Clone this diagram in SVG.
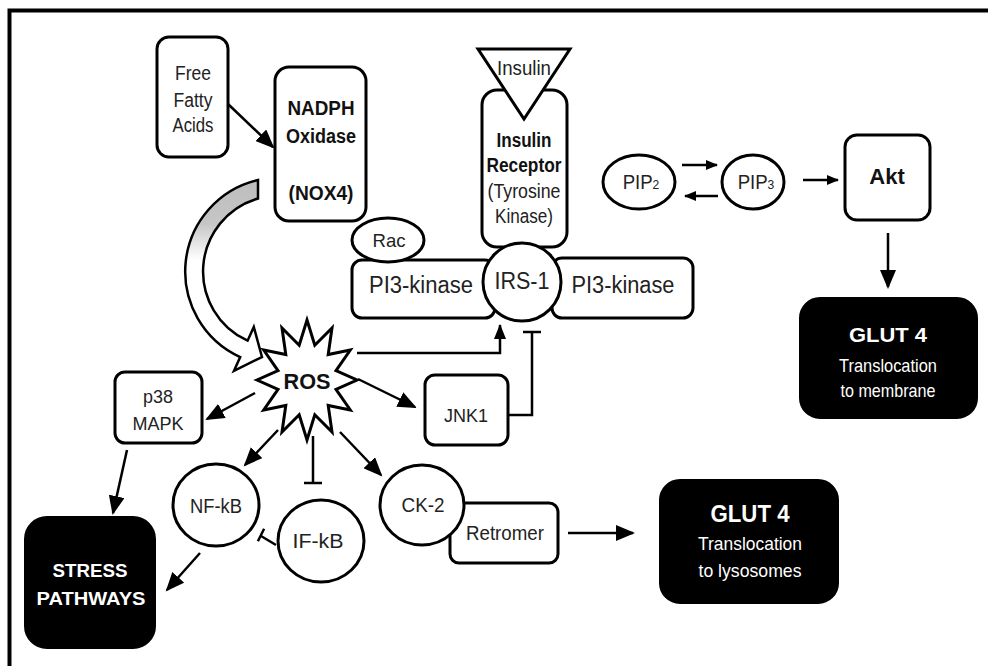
<svg xmlns="http://www.w3.org/2000/svg" width="988" height="666" viewBox="0 0 988 666">
<defs>
<style>
text{font-family:"Liberation Sans",Arial,sans-serif;text-anchor:middle;fill:#222}
.b{font-weight:bold;fill:#111}
.w{fill:#fff;font-weight:bold}
.box{fill:#fff;stroke:#000;stroke-width:3}
.blk{fill:#000;stroke:#000;stroke-width:2}
.ln{fill:none;stroke:#000;stroke-width:2.5}
.ah{marker-end:url(#ah)}
.am{marker-end:url(#am)}
.as{marker-end:url(#as)}
</style>
<marker id="ah" markerUnits="userSpaceOnUse" markerWidth="20" markerHeight="16" refX="17" refY="8" orient="auto"><path d="M0,0 L19,8 L0,16 z" fill="#000"/></marker>
<marker id="am" markerUnits="userSpaceOnUse" markerWidth="16" markerHeight="12" refX="14" refY="6" orient="auto"><path d="M0,0 L15,6 L0,12 z" fill="#000"/></marker>
<marker id="as" markerUnits="userSpaceOnUse" markerWidth="13" markerHeight="10" refX="11" refY="5" orient="auto"><path d="M0,0 L12,5 L0,10 z" fill="#000"/></marker>
<linearGradient id="gr" gradientUnits="userSpaceOnUse" x1="0" y1="180" x2="0" y2="260">
<stop offset="0" stop-color="#bdbdbd"/><stop offset="0.55" stop-color="#c6c6c6"/><stop offset="1" stop-color="#fff"/>
</linearGradient>
</defs>
<rect width="988" height="666" fill="#fff"/>
<path d="M9.5,666 V10.5 H988" fill="none" stroke="#000" stroke-width="4"/>

<g id="connectors">
<path d="M258,180 A94,94 0 0,0 240.2,357.1 L234,370.8 L262,357 L253.8,327 L247.6,340.7 A76,76 0 0,1 258,198.5 Z" fill="url(#gr)" stroke="#000" stroke-width="2.5" stroke-linejoin="miter"/>
<path class="ln ah" d="M228,104 L273,147"/>
<path class="ln as" d="M682,165 L717,165"/>
<path class="ln as" d="M718,196 L685,196"/>
<path class="ln as" d="M803,180 L838,180"/>
<path class="ln ah" d="M888,233 L888,287"/>
<path class="ln am" d="M357,353 H500 V325"/>
<path class="ln" d="M508,415 H532 V332 M523,332 H541"/>
<path class="ln ah" d="M358,379 L415,407"/>
<path class="ln ah" d="M255,393 L207,419"/>
<path class="ln ah" d="M127,450 L113,513"/>
<path class="ln ah" d="M278,430 L245,465"/>
<path class="ln ah" d="M200,553 L167,590"/>
<path class="ln" d="M313,436 V483 M304,483 H322"/>
<path class="ln" d="M276,545 L261,536 M264.1,528.7 L257.9,541.3"/>
<path class="ln ah" d="M340,432 L381,475"/>
<path class="ln ah" d="M568,533 L633,533"/>
</g>

<g id="ffa"><rect class="box" x="157" y="37" width="71" height="120" rx="12"/>
<text x="193" y="80" font-size="20" textLength="36" lengthAdjust="spacingAndGlyphs">Free</text>
<text x="193" y="107" font-size="20" textLength="39" lengthAdjust="spacingAndGlyphs">Fatty</text>
<text x="193" y="132" font-size="20" textLength="41" lengthAdjust="spacingAndGlyphs">Acids</text></g>

<g id="nadph"><rect class="box" x="275" y="67" width="91" height="154" rx="14"/>
<text class="b" x="321" y="115" font-size="20" textLength="67" lengthAdjust="spacingAndGlyphs">NADPH</text>
<text class="b" x="321" y="143" font-size="20" textLength="70" lengthAdjust="spacingAndGlyphs">Oxidase</text>
<text class="b" x="321" y="200" font-size="20" textLength="65" lengthAdjust="spacingAndGlyphs">(NOX4)</text></g>

<g id="pi3k-left"><rect class="box" x="352" y="260" width="143" height="58" rx="10"/>
<text x="421" y="293" font-size="23" textLength="104" lengthAdjust="spacingAndGlyphs">PI3-kinase</text></g>

<g id="pi3k-right"><rect class="box" x="552" y="258" width="141" height="60" rx="10"/>
<text x="623" y="293" font-size="23" textLength="103" lengthAdjust="spacingAndGlyphs">PI3-kinase</text></g>

<g id="insulin-receptor"><rect class="box" x="482" y="90" width="85" height="157" rx="15"/>
<text class="b" x="524" y="147" font-size="20" textLength="55" lengthAdjust="spacingAndGlyphs">Insulin</text>
<text class="b" x="524" y="172" font-size="20" textLength="75" lengthAdjust="spacingAndGlyphs">Receptor</text>
<text x="524" y="198" font-size="20" textLength="73" lengthAdjust="spacingAndGlyphs">(Tyrosine</text>
<text x="524" y="223" font-size="20" textLength="58" lengthAdjust="spacingAndGlyphs">Kinase)</text></g>

<g id="insulin"><polygon class="box" points="478,49 570,49 524,119"/>
<text x="524" y="75" font-size="21" textLength="54" lengthAdjust="spacingAndGlyphs">Insulin</text></g>

<g id="rac"><ellipse class="box" cx="388" cy="240" rx="36" ry="22"/>
<text x="389" y="247" font-size="19" textLength="33" lengthAdjust="spacingAndGlyphs">Rac</text></g>

<g id="irs1"><circle class="box" cx="522" cy="282" r="39"/>
<text x="522" y="289" font-size="23" textLength="55" lengthAdjust="spacingAndGlyphs">IRS-1</text></g>

<g id="pip2"><ellipse class="box" cx="639" cy="182" rx="36" ry="27"/>
<text transform="translate(641,189) scale(0.93,1)" font-size="20">PIP<tspan font-size="13">2</tspan></text></g>

<g id="pip3"><ellipse class="box" cx="753" cy="182" rx="31" ry="27"/>
<text transform="translate(756,189) scale(0.93,1)" font-size="20">PIP<tspan font-size="13">3</tspan></text></g>

<g id="akt"><rect class="box" x="845" y="135" width="85" height="85" rx="12"/>
<text class="b" x="887" y="184" font-size="22">Akt</text></g>

<g id="glut4-membrane"><rect class="blk" x="800" y="298" width="177" height="120" rx="20"/>
<text class="w" x="888" y="342" font-size="21" textLength="78" lengthAdjust="spacingAndGlyphs">GLUT 4</text>
<text x="888" y="372" font-size="19" fill="#fff" style="fill:#fff" textLength="98" lengthAdjust="spacingAndGlyphs">Translocation</text>
<text x="888" y="397" font-size="19" style="fill:#fff" textLength="95" lengthAdjust="spacingAndGlyphs">to membrane</text></g>

<g id="ros"><polygon class="box" points="307,320 314.8,345.2 332,328 328.2,354.5 350.3,350 336,370.7 357,380 336,389.3 350.3,410 328.2,405.5 332,432 314.8,414.8 307,440 299.2,414.8 282,432 285.8,405.5 263.7,410 278,389.3 257,380 278,370.7 263.7,350 285.8,354.5 282,328 299.2,345.2"/>
<text class="b" x="307" y="389" font-size="22" textLength="47" lengthAdjust="spacingAndGlyphs">ROS</text></g>

<g id="jnk1"><rect class="box" x="425" y="375" width="83" height="70" rx="10"/>
<text x="466" y="422" font-size="19" textLength="44" lengthAdjust="spacingAndGlyphs">JNK1</text></g>

<g id="p38"><rect class="box" x="115" y="372" width="87" height="71" rx="10"/>
<text x="158" y="403" font-size="18" textLength="30" lengthAdjust="spacingAndGlyphs">p38</text>
<text x="158" y="430" font-size="18" textLength="51" lengthAdjust="spacingAndGlyphs">MAPK</text></g>

<g id="stress"><rect class="blk" x="25" y="517" width="130" height="131" rx="22"/>
<text class="w" x="90" y="577" font-size="18" textLength="75" lengthAdjust="spacingAndGlyphs">STRESS</text>
<text class="w" x="91" y="605" font-size="18" textLength="109" lengthAdjust="spacingAndGlyphs">PATHWAYS</text></g>

<g id="nfkb"><ellipse class="box" cx="216" cy="505" rx="43" ry="41"/>
<text x="216" y="513" font-size="20" textLength="52" lengthAdjust="spacingAndGlyphs">NF-kB</text></g>

<g id="ifkb"><ellipse class="box" cx="321" cy="541" rx="43" ry="41"/>
<text x="318" y="548" font-size="20" textLength="51" lengthAdjust="spacingAndGlyphs">IF-kB</text></g>

<g id="retromer"><rect class="box" x="450" y="503" width="108" height="60" rx="9"/>
<text x="505" y="540" font-size="20" textLength="78" lengthAdjust="spacingAndGlyphs">Retromer</text></g>

<g id="ck2"><ellipse class="box" cx="422" cy="505" rx="42" ry="40"/>
<text x="423" y="512" font-size="21" textLength="43" lengthAdjust="spacingAndGlyphs">CK-2</text></g>

<g id="glut4-lysosomes"><rect class="blk" x="660" y="480" width="178" height="123" rx="20"/>
<text class="w" x="750" y="522" font-size="23" textLength="79" lengthAdjust="spacingAndGlyphs">GLUT 4</text>
<text x="750" y="550" font-size="19" style="fill:#fff" textLength="104" lengthAdjust="spacingAndGlyphs">Translocation</text>
<text x="750" y="577" font-size="19" style="fill:#fff" textLength="103" lengthAdjust="spacingAndGlyphs">to lysosomes</text></g>
</svg>
